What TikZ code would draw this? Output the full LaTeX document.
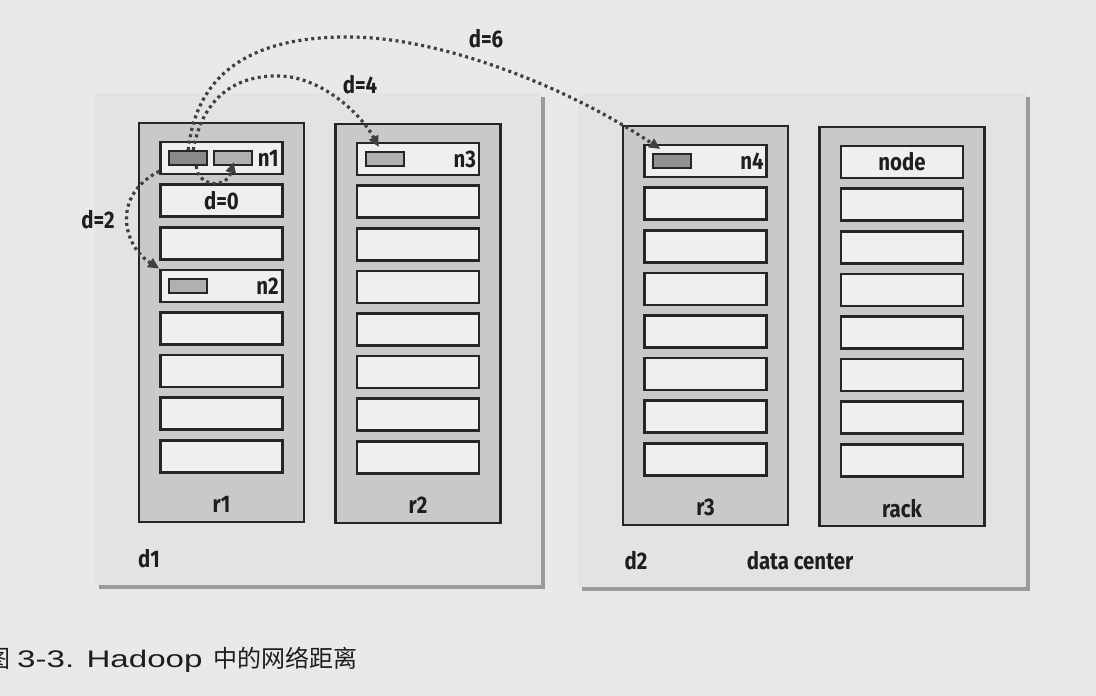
\documentclass[tikz,border=0pt]{standalone}
\usepackage{fontspec}
\setmainfont{Fira Sans}
\newfontfamily\lblfont[FakeStretch=0.85]{Fira Sans}
\newfontfamily\capfont[FakeStretch=1.38]{Liberation Sans}
\newfontfamily\cjk{Noto Sans CJK SC}
\usetikzlibrary{arrows.meta,shadows}
\definecolor{bgc}{HTML}{E9E9E9}
\definecolor{dcc}{HTML}{E3E3E3}
\definecolor{shc}{HTML}{9A9A9A}
\definecolor{rackc}{HTML}{C9C9C9}
\definecolor{srvc}{HTML}{EFEFEF}
\definecolor{linec}{HTML}{262626}
\definecolor{blkdark}{HTML}{8A8A8A}
\definecolor{blklight}{HTML}{B0B0B0}
\definecolor{dotc}{HTML}{404040}
\definecolor{txtc}{HTML}{1E1E1E}
\begin{document}
\begin{tikzpicture}[x=1pt,y=-1pt,
  dcbox/.style={rectangle, fill=dcc, inner sep=0pt, outer sep=0pt,
    drop shadow={shadow xshift=4pt, shadow yshift=-4pt, fill=shc, opacity=1}},
  rackbox/.style={rectangle, draw=linec, fill=rackc, line width=2.6pt,
    minimum width=165pt, minimum height=399pt, inner sep=0pt},
  srv/.style={rectangle, draw=linec, fill=srvc, line width=2.6pt,
    minimum width=122pt, minimum height=32pt, inner sep=0pt},
  blk/.style={rectangle, draw=linec, line width=2pt,
    minimum width=38pt, minimum height=14pt, inner sep=0pt, anchor=west},
  lbl/.style={inner sep=0pt, text=txtc, font=\lblfont\bfseries\fontsize{24}{24}\selectfont},
  captxt/.style={inner sep=0pt, anchor=base west, text=txtc},
  dotarc/.style={draw=dotc, line width=3.2pt, line cap=butt,
    dash pattern=on 3pt off 3.5pt, -{Triangle[length=11pt,width=10pt]}}
]
\useasboundingbox (0,0) rectangle (1096,696);
\fill[bgc] (0,0) rectangle (1096,696);

% data centers
\node[dcbox, minimum width=446pt, minimum height=492pt] (d1) at (318,339) {};
\node[dcbox, minimum width=448pt, minimum height=494pt] (d2) at (802,340) {};

% racks and servers
\foreach \r/\cx/\ty/\t in {r1/221.5/123/r1, r2/418/124/r2, r3/705.5/126/r3, r4/902/127/rack}{
  \node[rackbox] (\r) at (\cx, \ty+199.5) {};
  \foreach \i in {1,...,8}
    \node[srv] (\r-\i) at (\cx, {\ty+35+(\i-1)*42.6}) {};
  \node[lbl] (\r-lab) at ([yshift=19pt]\r.south) {\t};
}

% blocks
\node[blk, fill=blkdark] (b1) at ([xshift=9pt]r1-1.west) {};
\node[blk, fill=blklight] (b1b) at ([xshift=5pt]b1.east) {};
\node[blk, fill=blklight] (b2) at ([xshift=9pt]r1-4.west) {};
\node[blk, fill=blklight] (b3) at ([xshift=9pt]r2-1.west) {};
\node[blk, fill=blkdark!80!blklight] (b4) at ([xshift=9pt]r3-1.west) {};

% node labels
\node[lbl, anchor=east] (n1) at ([xshift=-5pt]r1-1.east) {n1};
\node[lbl, anchor=east] (n2) at ([xshift=-5pt]r1-4.east) {n2};
\node[lbl, anchor=east] (n3) at ([xshift=-4pt]r2-1.east) {n3};
\node[lbl, anchor=east] (n4) at ([xshift=-4pt]r3-1.east) {n4};
\node[lbl] (d0) at (r1-2) {d=0};
\node[lbl] (nodet) at (r4-1) {node};

% data center labels
\node[lbl] (d1lab) at (149,559) {d1};
\node[lbl] (d2lab) at (636,561) {d2};
\node[lbl] (dclab) at (800,561) {data center};

% distance labels
\node[lbl] (l2) at (98,220) {d=2};
\node[lbl] (l4) at (360,85) {d=4};
\node[lbl] (l6) at (486,39) {d=6};

% arcs
\draw[dotarc] (b1.north) .. controls (198,60) and (270,36) .. (352,37)
  .. controls (440,38) and (565,85) .. ([shift={(8,-4)}]b4.north west);
\draw[dotarc] ([xshift=5pt]b1.north) .. controls (205,85) and (250,75) .. (280,76)
  .. controls (320,77) and (360,112) .. ([shift={(14,-4)}]b3.north west);
\draw[dotarc] ([yshift=4pt]r1-1.south west) .. controls (112,195) and (122,245) .. (r1-4.north west);
\draw[dotarc] ([xshift=8pt]b1.south) .. controls (197,186) and (226,190) .. ([shift={(20.5,-4)}]b1b.south west);

% caption
\node[captxt] (cap1) at (-14,667) {\cjk\fontsize{24}{24}\selectfont 图};
\node[captxt] (cap2) at (17,667) {\capfont\fontsize{24}{24}\selectfont 3-3. Hadoop};
\node[captxt] (cap3) at (213,667) {\cjk\fontsize{24}{24}\selectfont 中的网络距离};
\end{tikzpicture}
\end{document}
